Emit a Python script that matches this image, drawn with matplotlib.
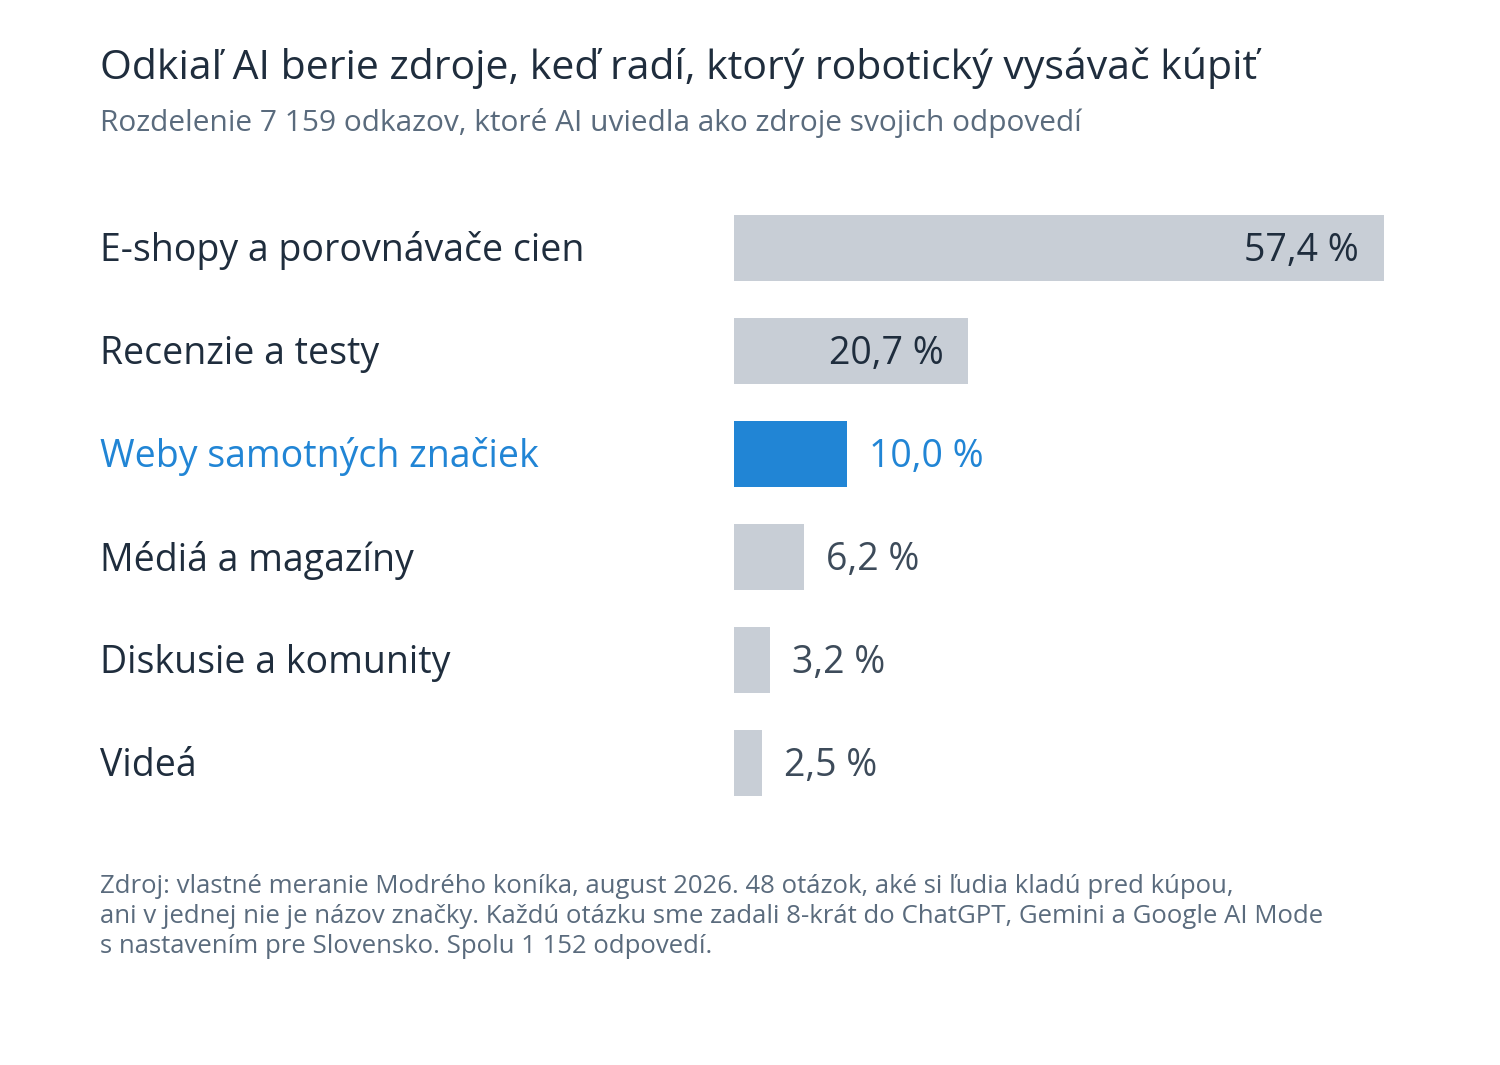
import matplotlib.pyplot as plt

categories = ["E-shopy a porovnávače cien", "Recenzie a testy", "Weby samotných značiek",
              "Médiá a magazíny", "Diskusie a komunity", "Videá"]
values = [57.4, 20.7, 10.0, 6.2, 3.2, 2.5]
labels = ["57,4 %", "20,7 %", "10,0 %", "6,2 %", "3,2 %", "2,5 %"]
highlight = 2

plt.rcParams['font.family'] = ['Open Sans', 'DejaVu Sans']
dark = "#1f2d3d"
gray = "#c8ced6"
blue = "#2185d5"
sub = "#5a6b7d"

W, H = 1500, 1065
fig = plt.figure(figsize=(15, 10.65), dpi=100)
ax = fig.add_axes([734 / W, 1 - 814.5 / H, 766 / W, 618 / H])
ax.set_xlim(0, 766 / 11.32)
ax.set_ylim(5.5, -0.5)
ax.axis('off')

for i, (c, v, l) in enumerate(zip(categories, values, labels)):
    col = blue if i == highlight else gray
    ax.barh(i, v, height=0.64, color=col)
    tcol = blue if i == highlight else dark
    fig.text(100 / W, 1 - (251 + 103 * i) / H, c, fontsize=27, color=tcol, va='center')
    if v > 15:
        ax.text(v - 2.2, i + 0.03, l, ha='right', va='center', fontsize=27, color=dark)
    else:
        ax.text(v + 1.9, i + 0.03, l, ha='left', va='center', fontsize=27,
                color=blue if i == highlight else "#3d4b5a")

fig.text(100 / W, 1 - 68 / H, "Odkiaľ AI berie zdroje, keď radí, ktorý robotický vysávač kúpiť",
         fontsize=29.5, color=dark, va='center')
fig.text(100 / W, 1 - 123 / H, "Rozdelenie 7 159 odkazov, ktoré AI uviedla ako zdroje svojich odpovedí",
         fontsize=21.5, color=sub, va='center')
fig.text(100 / W, 1 - 874 / H,
         "Zdroj: vlastné meranie Modrého koníka, august 2026. 48 otázok, aké si ľudia kladú pred kúpou,\n"
         "ani v jednej nie je názov značky. Každú otázku sme zadali 8-krát do ChatGPT, Gemini a Google AI Mode\n"
         "s nastavením pre Slovensko. Spolu 1 152 odpovedí.",
         fontsize=18.5, color=sub, va='top', linespacing=1.27)

fig.savefig("out.png", dpi=100, facecolor="white")
